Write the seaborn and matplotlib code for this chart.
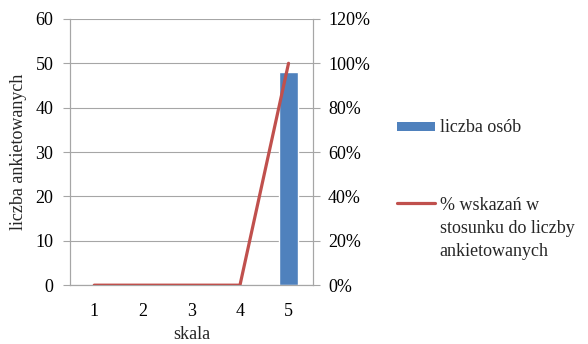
import matplotlib
matplotlib.use("Agg")
import matplotlib.pyplot as plt
import seaborn as sns
import pandas as pd
from matplotlib.lines import Line2D
from matplotlib.patches import Rectangle

# Survey data: scale points, number of respondents and share of answers
skala = ["1", "2", "3", "4", "5"]
liczba_osob = [0, 0, 0, 0, 48]
procent_wskazan = [0.0, 0.0, 0.0, 0.0, 1.0]

bar_label = "liczba osób"
line_label_lines = ["% wskazań w", "stosunku do liczby", "ankietowanych"]

sns.set_theme(style="white")
plt.rcParams["font.family"] = ["Liberation Serif", "DejaVu Serif"]

FS = 13
df = pd.DataFrame({"skala": skala, "liczba": liczba_osob, "procent": procent_wskazan})

fig = plt.figure(figsize=(5.88, 3.44), dpi=100)
ax = fig.add_axes([0.119, 0.171, 0.413, 0.774])

grid_col = "#a6a6a6"
bar_col = "#4f81bd"
line_col = "#c0504d"

sns.barplot(data=df, x="skala", y="liczba", color=bar_col, width=0.4,
            saturation=1, ax=ax, zorder=2)
ax.set_ylim(0, 60)
ax.set_yticks(range(0, 61, 10))
ax.set_xlim(-0.5, 4.5)
ax.yaxis.grid(True, color=grid_col, linewidth=0.8, zorder=0)
ax.set_axisbelow(True)
ax.set_xlabel("skala", fontsize=FS, labelpad=4)
ax.set_ylabel("liczba ankietowanych", fontsize=FS, labelpad=6)

ax2 = ax.twinx()
sns.lineplot(x=list(range(len(skala))), y=procent_wskazan, color=line_col,
             linewidth=2.3, ax=ax2, zorder=3)
pct_ticks = [i / 5 for i in range(7)]
ax2.set_ylim(0, 1.2)
ax2.set_yticks(pct_ticks)
ax2.set_yticklabels([f"{int(round(v * 100))}%" for v in pct_ticks])
ax2.set_xlim(-0.5, 4.5)

for a in (ax, ax2):
    for side in ("left", "right", "bottom"):
        a.spines[side].set_color(grid_col)
        a.spines[side].set_linewidth(0.8)
    a.spines["top"].set_visible(False)
    a.tick_params(axis="both", which="both", labelsize=FS, colors="black",
                  length=5, width=0.8, color=grid_col, direction="out")
ax.tick_params(axis="x", length=0, pad=13)
ax.tick_params(axis="y", left=True, pad=7)
ax2.tick_params(axis="y", right=True, pad=6)

# Legend drawn beside the plot, with the line key aligned to the first text line
fig.add_artist(Rectangle((0.675, 0.619), 0.0646, 0.026, transform=fig.transFigure,
                         facecolor=bar_col, edgecolor="none"))
fig.text(0.748, 0.630, bar_label, fontsize=FS, va="center", ha="left")
fig.add_artist(Line2D([0.675, 0.740], [0.410, 0.410], transform=fig.transFigure,
                      color=line_col, linewidth=2.3))
for txt, yy in zip(line_label_lines, [0.402, 0.336, 0.270]):
    fig.text(0.748, yy, txt, fontsize=FS, va="center", ha="left")

fig.savefig("out.png", dpi=100)
